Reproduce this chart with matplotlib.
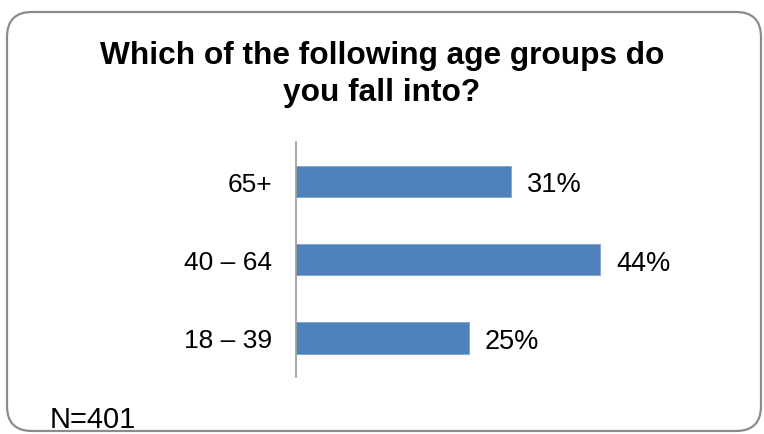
import matplotlib.pyplot as plt
from matplotlib.patches import FancyBboxPatch

plt.rcParams['font.family'] = ['Liberation Sans', 'DejaVu Sans']

categories = ['18 – 39', '40 – 64', '65+']
shares = [25, 44, 31]
value_labels = ['25%', '44%', '31%']

fig = plt.figure(figsize=(7.64, 4.35), dpi=100)

# rounded frame around the whole chart (in inches)
frame = FancyBboxPatch((0.07, 0.03), 7.54, 4.19,
                       boxstyle="round,pad=0,rounding_size=0.25",
                       transform=fig.dpi_scale_trans,
                       facecolor='none', edgecolor='#8c8c8c', linewidth=1.6,
                       zorder=-1)
fig.patches.append(frame)

fig.text(0.5, 0.829, "Which of the following age groups do\nyou fall into?",
         ha='center', va='center', fontsize=22.8, fontweight='bold',
         linespacing=1.32)

ax = fig.add_axes([0.3874, 0.131, 0.4529, 0.54])
ax.barh(range(len(categories)), shares, height=0.4, color='#4f81bd',
        edgecolor='#7fa3d0', linewidth=0.6)
ax.set_xlim(0, 50)
ax.set_ylim(-0.5, len(categories) - 0.5)

for i, (v, lab) in enumerate(zip(shares, value_labels)):
    ax.text(v + 2.3, i, lab, va='center_baseline', ha='left', fontsize=19.5)

ax.set_yticks(range(len(categories)))
ax.set_yticklabels(categories, fontsize=19)
ax.tick_params(axis='y', length=0, pad=17)
ax.set_xticks([])
for side in ['top', 'right', 'bottom']:
    ax.spines[side].set_visible(False)
ax.spines['left'].set_color('#999999')
ax.spines['left'].set_linewidth(1.2)
ax.patch.set_alpha(0)

fig.text(50 / 764, 1 - 420 / 435, "N=401", ha='left', va='center', fontsize=21)

plt.savefig("out.png", dpi=100)
